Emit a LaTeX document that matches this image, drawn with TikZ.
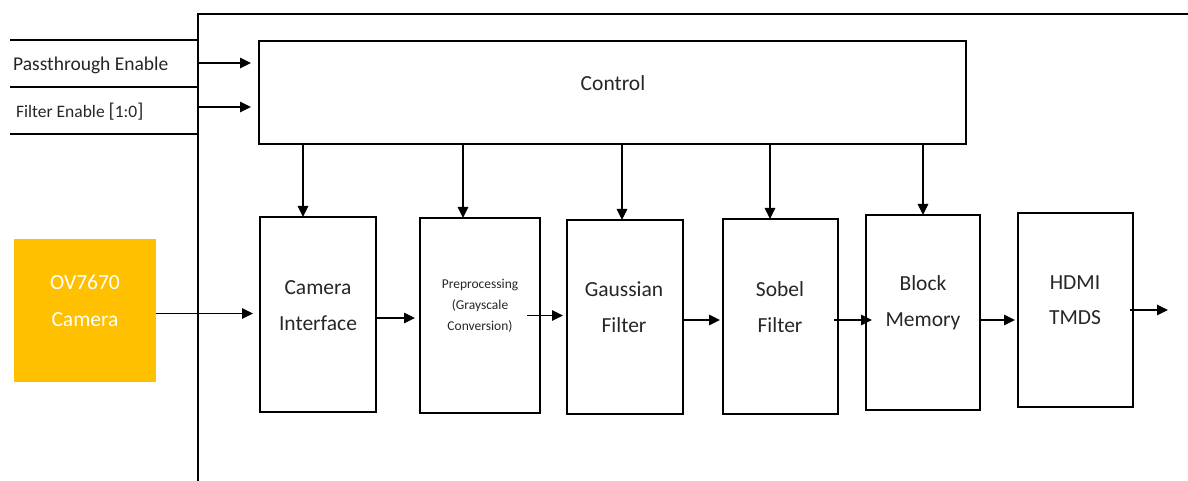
\documentclass[tikz,border=0pt]{standalone}
\usepackage{fontspec}
\setmainfont{Carlito}
\usetikzlibrary{arrows.meta}
\definecolor{camyellow}{HTML}{FFC000}
\definecolor{txtgray}{HTML}{262626}
\begin{document}
\begin{tikzpicture}[x=1pt,y=-1pt,
  box/.style={draw=black,line width=2.6pt,inner sep=0pt,outer sep=0pt},
  txt/.style={align=center,inner sep=0pt,text=txtgray,font=\fontsize{21.5}{36}\selectfont},
  arr/.style={line width=1.3pt,-{Triangle[length=11pt,width=10.5pt]}},
  wire/.style={line width=2.6pt}]
\useasboundingbox (0,0) rectangle (1188,481);
% outer frame
\draw[wire] (198,481) -- (198,14) -- (1188,14);
% input rows
\draw[wire] (10,40) -- (199,40);
\draw[wire] (10,87) -- (199,87);
\draw[wire] (10,134) -- (199,134);
\node[anchor=west,inner sep=0pt,text=txtgray,font=\fontsize{19.5}{24}\selectfont] (pe) at (13,65) {Passthrough Enable};
\node[anchor=west,inner sep=0pt,text=txtgray,font=\fontsize{17.5}{22}\selectfont] (fe) at (16,112) {Filter Enable {\fontsize{20}{22}\selectfont[}1:0{\fontsize{20}{22}\selectfont]}};
% control
\node[box,minimum width=707pt,minimum height=103pt] (ctrl) at (612.5,92.5) {};
\node[txt] (ctrlt) at (613,83) {Control};
\coordinate (pin) at (199,63);
\coordinate (fin) at (199,107);
\draw[arr,shorten >=8pt] (pin) -- (pin -| ctrl.west);
\draw[arr,shorten >=8pt] (fin) -- (fin -| ctrl.west);
% camera
\node[fill=camyellow,inner sep=0pt,minimum width=142pt,minimum height=143pt] (cam) at (85,310.5) {};
\node[txt,text=white,font=\fontsize{21.5}{37}\selectfont] (camt) at (85,300.5) {OV7670\\Camera};
% blocks
\node[box,minimum width=116pt,minimum height=195pt] (ci) at (318,314.5) {};
\node[txt] (cit) at (318,306) {Camera\\Interface};
\node[box,minimum width=120pt,minimum height=195pt] (pre) at (480,315.5) {};
\node[txt,font=\fontsize{13.5}{21}\selectfont] (pret) at (480,306) {Preprocessing\\(Grayscale\\Conversion)};
\node[box,minimum width=116pt,minimum height=194pt] (gau) at (625,317) {};
\node[txt] (gaut) at (624,307.5) {Gaussian\\Filter};
\node[box,minimum width=115pt,minimum height=195pt] (sob) at (780.5,316.5) {};
\node[txt] (sobt) at (780,307.5) {Sobel\\Filter};
\node[box,minimum width=114pt,minimum height=195pt] (mem) at (923,312.5) {};
\node[txt] (memt) at (923,303) {Block\\Memory};
\node[box,minimum width=115pt,minimum height=194pt] (hdmi) at (1075.5,310) {};
\node[txt,font=\fontsize{21.5}{35}\selectfont] (hdmit) at (1075,300.5) {HDMI\\TMDS};
\coordinate (out) at (1168,310);
% control to blocks
\draw[arr] ([xshift=-15pt]ci.north |- ctrl.south) -- ([xshift=-15pt]ci.north);
\draw[arr] ([xshift=-17pt]pre.north |- ctrl.south) -- ([xshift=-17pt]pre.north);
\draw[arr] ([xshift=-3pt]gau.north |- ctrl.south) -- ([xshift=-3pt]gau.north);
\draw[arr] ([xshift=-10.5pt]sob.north |- ctrl.south) -- ([xshift=-10.5pt]sob.north);
\draw[arr] (mem.north |- ctrl.south) -- (mem.north);
% data path
\draw[arr,shorten >=7pt] ([yshift=-3pt]cam.east) -- ([yshift=-3pt]cam.east -| ci.west);
\draw[arr,shorten >=5pt] ([yshift=-3.5pt]ci.east) -- ([yshift=-3.5pt]ci.east -| pre.west);
\draw[arr,shorten >=4pt] ([xshift=-13pt]pre.east) -- (pre.east -| gau.west);
\draw[arr,shorten >=3pt] ([yshift=-3pt]gau.east) -- ([yshift=-3pt]gau.east -| sob.west);
\draw[arr,shorten >=-6pt] ([xshift=-4pt,yshift=-3.5pt]sob.east) -- ([yshift=-3.5pt]sob.east -| mem.west);
\draw[arr,shorten >=3pt] ([yshift=-7.5pt]mem.east) -- ([yshift=-7.5pt]mem.east -| hdmi.west);
\draw[arr] ([xshift=-3pt]hdmi.east) -- (out);
\end{tikzpicture}
\end{document}
